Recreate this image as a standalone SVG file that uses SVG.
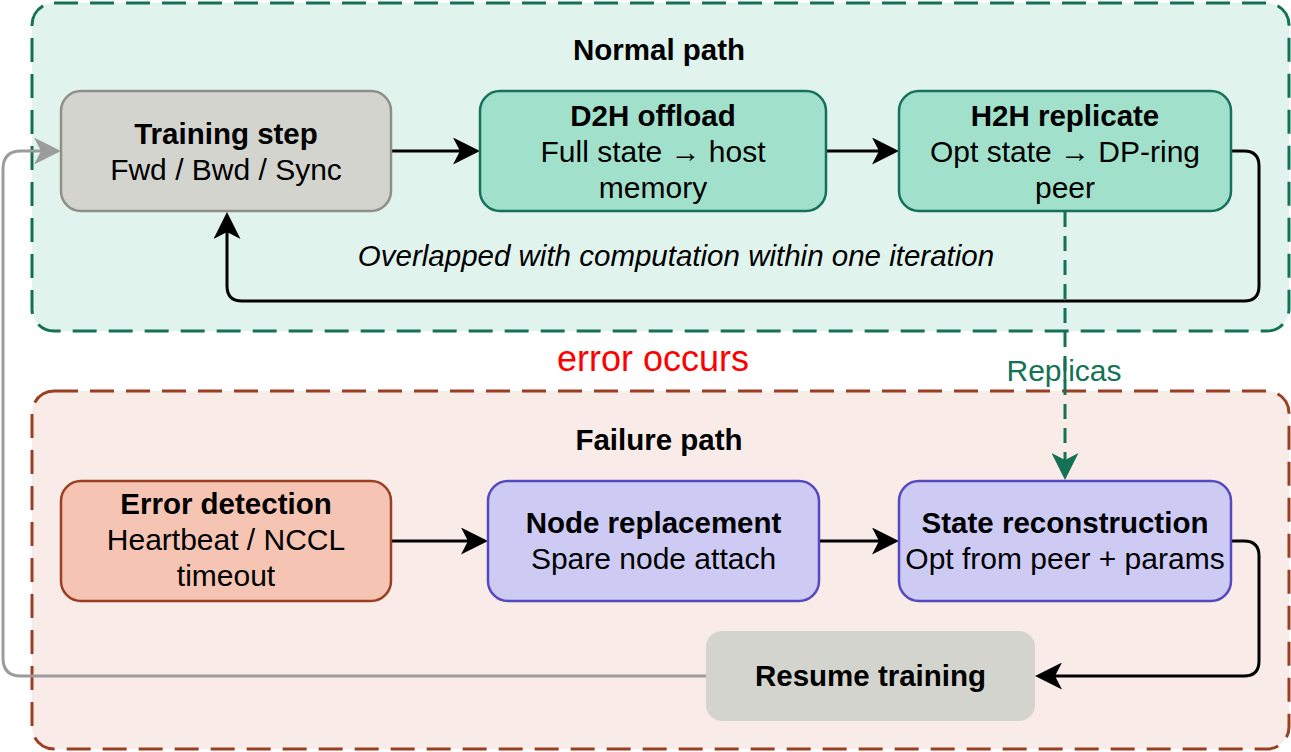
<svg xmlns="http://www.w3.org/2000/svg" width="1291" height="752" viewBox="0 0 1291 752">
  <style>
    text { font-family: "Liberation Sans", Arial, sans-serif; font-size: 30px; fill: #000; text-anchor: middle; }
    .b { font-weight: bold; font-size: 29.5px; }
    .it { font-style: italic; font-size: 29.5px; }
    .err { fill: #ff0000; font-size: 36px; }
    .rep { fill: #137256; }
    .zone-normal { fill: #e0f3ec; stroke: #137256; stroke-width: 3; stroke-dasharray: 24 12; }
    .zone-fail { fill: #f9ebe7; stroke: #9b3f22; stroke-width: 3; stroke-dasharray: 24 12; }
    .n-gray { fill: #d4d4cf; stroke: #8e8e8a; stroke-width: 2.5; }
    .n-teal { fill: #a1e1cc; stroke: #167158; stroke-width: 2.5; }
    .n-red { fill: #f5c4b3; stroke: #9b3f22; stroke-width: 2.5; }
    .n-blue { fill: #cdcbf4; stroke: #5549bf; stroke-width: 2.5; }
    .n-resume { fill: #d4d4ce; }
    .c { fill: none; stroke: #000; stroke-width: 3; marker-end: url(#ah-black); }
    .c-gray { fill: none; stroke: #9c9c9c; stroke-width: 3; marker-end: url(#ah-gray); }
    .c-rep { fill: none; stroke: #137256; stroke-width: 3; stroke-dasharray: 15 9; marker-end: url(#ah-teal); }
  </style>
  <defs>
    <marker id="ah-black" viewBox="0 0 27 27" markerWidth="27" markerHeight="27" refX="7" refY="13.5" orient="auto" markerUnits="userSpaceOnUse">
      <path d="M0,0 L27,13.5 L0,27 L7,13.5 Z" fill="#000"/>
    </marker>
    <marker id="ah-gray" viewBox="0 0 27 27" markerWidth="27" markerHeight="27" refX="7" refY="13.5" orient="auto" markerUnits="userSpaceOnUse">
      <path d="M0,0 L27,13.5 L0,27 L7,13.5 Z" fill="#9c9c9c"/>
    </marker>
    <marker id="ah-teal" viewBox="0 0 27 27" markerWidth="27" markerHeight="27" refX="7" refY="13.5" orient="auto" markerUnits="userSpaceOnUse">
      <path d="M0,0 L27,13.5 L0,27 L7,13.5 Z" fill="#137256"/>
    </marker>
  </defs>

  <!-- zones -->
  <g id="zone-normal">
    <rect class="zone-normal" x="32" y="3" width="1257" height="328" rx="22"/>
    <text class="b" x="659" y="60">Normal path</text>
  </g>
  <g id="zone-failure">
    <rect class="zone-fail" x="32" y="391" width="1257" height="358" rx="22"/>
    <text class="b" x="659" y="450">Failure path</text>
  </g>

  <!-- connectors -->
  <g id="connectors">
    <path class="c" d="M392,151 H460"/>
    <path class="c" d="M826,151 H879"/>
    <path class="c" d="M1231,151 H1244 Q1259,151 1259,166 V286 Q1259,301 1244,301 H242 Q227,301 227,286 V232"/>
    <path class="c" d="M391,541 H468"/>
    <path class="c" d="M819,541 H879"/>
    <path class="c" d="M1231,541 H1244 Q1259,541 1259,556 V661 Q1259,676 1244,676 H1055"/>
    <path class="c-gray" d="M706,676 H21 Q3,676 3,658 V169 Q3,151 21,151 H41"/>
    <path class="c-rep" d="M1065,212 V460"/>
    <text class="rep" x="1064" y="381">Replicas</text>
    <text class="it" x="676" y="266">Overlapped with computation within one iteration</text>
    <text class="err" x="653" y="371">error occurs</text>
  </g>

  <!-- normal path nodes -->
  <g id="training-step">
    <rect class="n-gray" x="61" y="91" width="330" height="120" rx="20"/>
    <text class="b" x="226" y="144">Training step</text>
    <text x="226" y="180">Fwd / Bwd / Sync</text>
  </g>
  <g id="d2h-offload">
    <rect class="n-teal" x="480" y="91" width="346" height="120" rx="20"/>
    <text class="b" x="653" y="126">D2H offload</text>
    <text x="653" y="162">Full state → host</text>
    <text x="653" y="198">memory</text>
  </g>
  <g id="h2h-replicate">
    <rect class="n-teal" x="899" y="91" width="332" height="120" rx="20"/>
    <text class="b" x="1065" y="126">H2H replicate</text>
    <text x="1065" y="162">Opt state → DP-ring</text>
    <text x="1065" y="198">peer</text>
  </g>

  <!-- failure path nodes -->
  <g id="error-detection">
    <rect class="n-red" x="61" y="481" width="330" height="120" rx="20"/>
    <text class="b" x="226" y="514">Error detection</text>
    <text x="226" y="550">Heartbeat / NCCL</text>
    <text x="226" y="586">timeout</text>
  </g>
  <g id="node-replacement">
    <rect class="n-blue" x="488" y="481" width="331" height="120" rx="20"/>
    <text class="b" x="653.5" y="533">Node replacement</text>
    <text x="653.5" y="569">Spare node attach</text>
  </g>
  <g id="state-reconstruction">
    <rect class="n-blue" x="899" y="481" width="332" height="120" rx="20"/>
    <text class="b" x="1065" y="533">State reconstruction</text>
    <text x="1065" y="569">Opt from peer + params</text>
  </g>
  <g id="resume-training">
    <rect class="n-resume" x="706" y="631" width="329" height="90" rx="16"/>
    <text class="b" x="870.5" y="686">Resume training</text>
  </g>
</svg>
